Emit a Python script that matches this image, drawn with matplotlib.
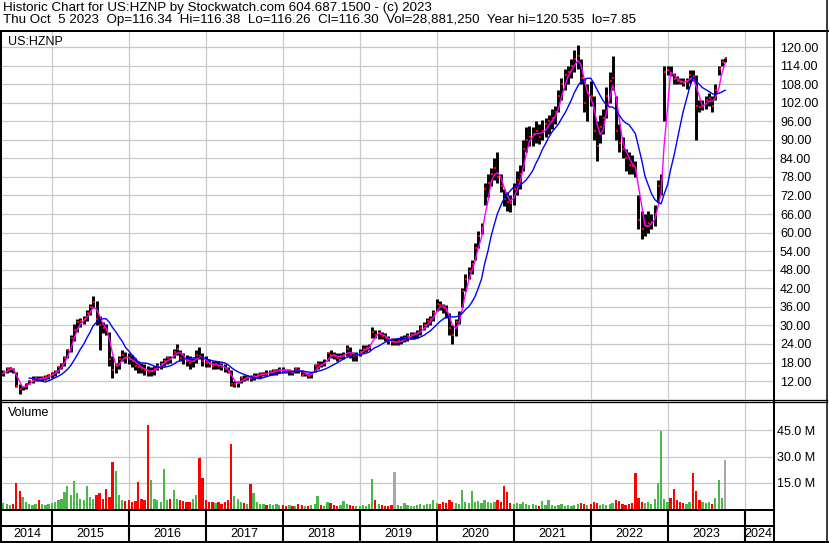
import numpy as np
import pandas as pd
import matplotlib
matplotlib.use("Agg")
import matplotlib.pyplot as plt
import matplotlib.dates as mdates
from matplotlib.lines import Line2D

plt.rcParams['font.family'] = ['Liberation Sans', 'DejaVu Sans']

# ---------------------------------------------------
# DATA (semi-monthly bars)
# ---------------------------------------------------
dates = pd.date_range('2014-05-01', '2023-10-01', freq='SMS')

high = [
    15, 15.5, 16.5, 16.5, 16.3, 15, 11, 10.5, 11.5, 12.5, 13.5, 13.5, 13.5, 13.5, 13.8, 14.3,  # 2014
    15, 15.5, 17, 18, 20, 22.5, 27, 30.5, 32, 32.5, 33, 35, 37, 39.5, 38, 33, 31, 30.5, 28, 20, 18, 20, 22, 21.5,  # 2015
    21, 20.5, 19.5, 18.5, 18, 17.5, 17, 16.5, 17, 18, 18.5, 19.5, 20, 20, 22.5, 24, 22, 21, 20.5, 20, 19.5, 22, 23, 21,  # 2016
    20, 19, 18.5, 18.5, 18.5, 18, 17.5, 16.5, 15.5, 12, 12, 13.5, 14, 14, 14, 14.5, 14.5, 15, 15, 15.5, 15.5, 16, 16, 16.5,  # 2017
    16.5, 16, 16, 15.5, 16.5, 16.5, 15.5, 15, 14.5, 15, 17.5, 18.5, 18.5, 19, 21.5, 22, 21.5, 21, 21, 21.5, 23.5, 23, 21.5, 21.5,  # 2018
    22.5, 23.5, 23.5, 24, 29.5, 28.5, 28.5, 28, 27.5, 26.5, 26, 26, 26, 26.5, 27, 27.5, 28, 28, 28.5, 30, 31, 32.5, 33, 35,  # 2019
    38.5, 38, 37, 36.5, 34, 30, 32, 34.5, 42, 46.5, 49, 51, 56.5, 60.5, 63, 76, 79, 81, 84, 86, 79, 74, 73, 72,  # 2020
    76, 80, 82, 90, 94, 94.5, 94, 96, 95, 96.5, 97, 98, 100, 101, 106, 110, 113, 114, 116, 119, 120.5, 116, 110, 108,  # 2021
    109, 104, 96, 98, 100, 107, 112, 117, 104, 95, 91, 87, 86, 85, 83, 72, 67, 66, 67, 66, 69, 77, 79, 114,  # 2022
    114, 114, 111.5, 110.5, 110, 110, 110, 112.5, 112.5, 111, 103, 103, 104, 105, 104, 108, 114, 116, 116.5,  # 2023
]

low = [
    13, 13.5, 14.5, 15, 14.5, 10, 7.85, 9, 9.5, 11, 11.5, 12, 12, 12, 12.5, 12.8,
    13, 13.5, 14.5, 16, 17, 19.5, 21.5, 25, 28, 29.5, 30.5, 31.5, 33.5, 35.5, 30, 22, 27.5, 27, 17, 13, 14.5, 16, 18.5, 18,
    17.5, 16.5, 15.5, 14.5, 14.5, 14, 13.5, 13.5, 14, 15.5, 16, 17, 17.5, 18, 19.5, 20.5, 18.5, 17.5, 17, 16, 16.5, 18, 19, 17,
    16.5, 16.5, 16, 16, 16, 15.5, 15, 14.5, 10.5, 10, 10, 11.5, 12, 12.5, 12, 12.5, 13, 13, 13.5, 13.5, 14, 14, 14, 14.5,
    14.5, 14.5, 14, 14, 14.5, 14.5, 13.5, 13.5, 13, 13, 15, 16, 16.5, 17, 18.5, 19.5, 19, 18.5, 19, 19, 20, 19.5, 18.5, 18.5,
    20, 21, 21.5, 22, 26, 26, 25.5, 25.5, 25, 24, 23.5, 23.5, 23.5, 24, 24.5, 25, 25.5, 25.5, 26, 27, 28.5, 29.5, 30, 31.5,
    34.5, 35, 34, 32.5, 27, 24, 26.5, 30.5, 36, 41, 45, 46.5, 51, 55, 59.5, 69, 71.5, 75, 77, 76, 73, 68.5, 67, 66.5,
    69, 72, 74, 80, 86, 88, 88, 89, 88.5, 90, 91, 92, 93.5, 95, 99, 103, 106, 108, 110, 112, 113, 108, 99, 96,
    101, 90, 83, 89, 92, 97, 102, 106, 90, 86, 84, 80, 79, 79, 78, 61, 58, 59, 60, 61, 62, 70, 72, 96,
    111, 110.5, 108, 108, 108, 107.5, 106.5, 108.5, 109, 90, 99, 99.5, 100, 101, 99, 103, 111, 114, 115,
]

close = [
    14, 15, 16, 16.2, 15.5, 10.5, 9.5, 10, 11, 12, 12.5, 13, 12.5, 13, 13.2, 13.8,
    14.5, 15, 16.5, 17.5, 19.5, 22, 26, 28.5, 31, 31.5, 32, 34, 36, 37.5, 32, 30, 29, 28.5, 19, 15.5, 17, 19, 20.5, 19.5,
    19, 18.5, 17, 16.5, 16, 15.5, 15, 15.2, 16, 17, 17.5, 18.5, 19.5, 19, 21.5, 22.5, 19.5, 19, 18.5, 18, 18.5, 20.5, 20, 18.5,
    18, 17.5, 17, 17.5, 17, 16.5, 16, 15, 11, 11.2, 11.5, 13, 12.8, 13.5, 13, 13.5, 14, 14.2, 14.5, 14.3, 15, 15.2, 15.5, 15.7,
    15.5, 15, 15.2, 14.5, 16, 15.5, 14, 14.2, 13.5, 14.5, 17, 17.5, 17.3, 18, 21, 20.5, 20, 19.5, 20, 20.5, 22.5, 20.5, 20, 20.5,
    21.5, 22.5, 22.8, 23, 28, 27, 27.5, 26.5, 26, 25, 24.5, 24.5, 24.8, 25, 26, 26.5, 27, 27.3, 27.5, 29, 30, 31.5, 32, 34,
    37, 36.5, 35.5, 34.5, 29, 27, 31, 33.5, 41, 45, 47.5, 50, 55, 59, 61.5, 74, 76, 79, 81, 78, 75, 71, 70, 69.5,
    74, 77, 79, 87, 90, 91, 92, 93, 91, 93, 95, 96, 97, 99, 104, 108, 111, 112, 114, 116, 117, 110, 102, 105,
    104, 93, 88, 94, 97, 104, 109, 110, 93, 89, 87, 84, 82, 81.5, 80, 64, 61, 62, 63, 63.5, 66, 75, 77, 112,
    112.5, 111, 109.5, 109, 108.7, 108.5, 109, 111, 110.5, 101, 100.5, 101, 103, 103.5, 101, 106, 113, 115, 116.3,
]

# volume in millions
volume = [
    3, 3.5, 3, 2.5, 3, 14.8, 10.4, 7.1, 4, 3, 2.5, 3, 5.2, 3, 2.5, 3,
    3.5, 4, 5, 6, 10, 12.9, 8, 16.3, 9.4, 6, 5, 13.3, 7, 6, 8, 9, 6, 11.7, 7, 27.1, 21.5, 8, 5, 4.5,
    5, 4, 4.5, 15.2, 6, 5, 48.3, 16.5, 6, 5, 4, 22.9, 5, 5.5, 11, 6, 5, 4.5, 4, 4, 6, 8, 29, 17.5,
    5, 4, 4, 3.5, 4, 3, 4, 5, 37.1, 7.5, 6, 4, 3.5, 3, 14.6, 9.4, 4, 3, 3, 2.5, 3, 2.5, 3, 2.5,
    2.5, 2, 2.5, 2, 2, 3, 2.5, 2, 2, 2.5, 3, 7.5, 2.5, 2, 4, 3.5, 2.5, 2, 2.5, 4.5, 3, 2.5, 2, 2,
    2, 2.5, 2, 3, 17, 5, 3, 2.5, 2, 2, 2.5, 21, 2.5, 2, 3.5, 2.5, 2, 2, 2.5, 3, 2.5, 3, 3, 5,
    3.5, 3, 4, 3.5, 5, 4, 3.5, 3, 10.8, 4, 3.5, 10.2, 4, 4.5, 3.5, 5, 4, 3.5, 4, 5, 4, 13, 9.8, 3.5,
    3, 3.5, 3, 4, 3, 2.5, 3, 2.5, 2, 4.5, 2.5, 5, 2.5, 2, 2.5, 3, 2, 2.5, 2, 2.5, 3, 3.5, 3, 2.5,
    3, 4, 3.5, 2.5, 3, 2.5, 3, 3.5, 5, 4.5, 3, 2.5, 3, 3.5, 20.6, 6.5, 4, 3.5, 4, 3, 5.5, 14.8, 44.8, 6,
    4, 6.5, 11.3, 5, 4, 3.5, 3, 4, 20.6, 10.2, 5, 4, 3.5, 4, 3, 6.5, 16.5, 6.5, 28.3,
]

price_ticks = list(range(12, 121, 6))
volume_ticks = [15, 30, 45]
years = list(range(2014, 2025))

header1 = "Historic Chart for US:HZNP by Stockwatch.com 604.687.1500 - (c) 2023"
header2 = ("Thu Oct  5 2023  Op=116.34  Hi=116.38  Lo=116.26  Cl=116.30  "
           "Vol=28,881,250  Year hi=120.535  lo=7.85")

assert len(high) == len(low) == len(close) == len(volume) == len(dates)

# moving averages
close_s = pd.Series(close)
ma_short = close_s.rolling(3, min_periods=1).mean()
ma_long = close_s.rolling(10).mean()

# up / down colours for volume
diff = close_s.diff().fillna(1)
vol_colors = np.where(diff > 0, '#4cb84c', np.where(diff < 0, '#ff0000', '#a8a8a8'))
vol_colors[-1] = '#a8a8a8'

# ---------------------------------------------------
# FIGURE
# ---------------------------------------------------
W, H = 830, 543
fig = plt.figure(figsize=(W / 100, H / 100), dpi=100, facecolor='white')


def fx(x):
    return x / W


def fy(y):
    return 1 - y / H


def hline(y, x0, x1, lw=2):
    fig.add_artist(Line2D([fx(x0), fx(x1)], [fy(y), fy(y)], color='black',
                          lw=lw * 0.72, transform=fig.transFigure))


def vline(x, y0, y1, lw=2):
    fig.add_artist(Line2D([fx(x), fx(x)], [fy(y0), fy(y1)], color='black',
                          lw=lw * 0.72, transform=fig.transFigure))


xmin = pd.Timestamp('2014-05-09')
xmax = pd.Timestamp('2024-05-15')
year_starts = [pd.Timestamp(f'{y}-01-01') for y in years[1:]]
grid_kw = dict(color='#c8c8c8', lw=0.9)

# price panel
ax = fig.add_axes([fx(2), fy(399), (773 - 2) / W, (399 - 32) / H])
ax.vlines(dates, low, high, color='black', lw=2.1)
ax.plot(dates + pd.Timedelta(days=4), close, ls='none', marker='s', ms=1.6,
        mew=0, color='red')
ax.plot(dates, ma_short, color='#ff00ff', lw=1.0)
ax.plot(dates, ma_long, color='#0000ff', lw=1.0)
ax.set_xlim(xmin, xmax)
ax.set_ylim(6.2, 124.85)
ax.set_yticks(price_ticks)
ax.set_yticklabels([f'{v:.2f}' for v in price_ticks])
ax.set_xticks(year_starts)
ax.yaxis.tick_right()
ax.tick_params(axis='y', length=0, pad=5, labelsize=9)
ax.tick_params(axis='x', length=0, labelbottom=False)
ax.grid(True, **grid_kw)
ax.set_axisbelow(True)
for s in ax.spines.values():
    s.set_visible(False)
ax.text(6 / 771, 1 - 10 / 367, 'US:HZNP', transform=ax.transAxes,
        va='center', ha='left', fontsize=9)

# volume panel
axv = fig.add_axes([fx(2), fy(509), (773 - 2) / W, (509 - 402.5) / H])
axv.bar(dates, volume, width=11, color=vol_colors, linewidth=0)
axv.set_xlim(xmin, xmax)
axv.set_ylim(0, 61)
axv.set_yticks(volume_ticks)
axv.set_yticklabels([f'{v:.1f} M' for v in volume_ticks])
axv.set_xticks(year_starts)
axv.yaxis.tick_right()
axv.tick_params(axis='y', length=0, pad=3, labelsize=9)
axv.tick_params(axis='x', length=0, labelbottom=False)
axv.grid(True, **grid_kw)
axv.set_axisbelow(True)
for s in axv.spines.values():
    s.set_visible(False)
axv.text(6 / 771, 1 - 11 / 106.5, 'Volume', transform=axv.transAxes,
         va='center', ha='left', fontsize=9)

# year strip
axy = fig.add_axes([fx(2), fy(542), (773 - 2) / W, (542 - 509) / H])
axy.set_xlim(xmin, xmax)
axy.set_ylim(0, 1)
axy.axis('off')
axy.vlines(year_starts, 0, 1, color='black', lw=1.5)
for y in years:
    a = max(pd.Timestamp(f'{y}-01-01'), xmin)
    b = min(pd.Timestamp(f'{y + 1}-01-01'), xmax)
    axy.text(a + (b - a) / 2, 0.24, str(y), ha='center', va='center', fontsize=9)

# frame lines
hline(30.5, 0, 828)
vline(0.8, 30.5, 542)
vline(774, 30.5, 542)
vline(827, 0, 542, lw=1.5)
hline(399.8, 0, 827, lw=1.3)
hline(402.3, 0, 827, lw=1.3)
hline(509.5, 0, 774)
hline(526, 0, 774)
hline(541.8, 0, 828)

# header
fig.text(fx(3), fy(1.5), header1, ha='left', va='top', fontsize=9.6)
fig.text(fx(3), fy(14.5), header2, ha='left', va='top', fontsize=9.6)

fig.savefig('out.png', dpi=100, facecolor='white')
